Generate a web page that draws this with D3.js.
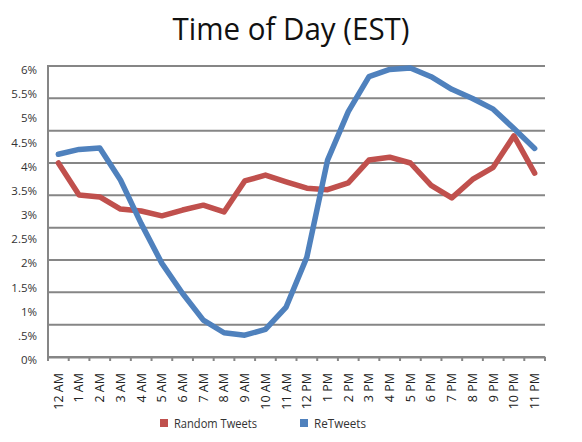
<!DOCTYPE html>
<html><head><meta charset="utf-8">
<script src="https://cdn.jsdelivr.net/npm/d3@7"></script>
<style>body{margin:0;background:#fff;} svg{display:block;}</style>
</head><body>
<script>
const hours = ["12 AM","1 AM","2 AM","3 AM","4 AM","5 AM","6 AM","7 AM","8 AM","9 AM","10 AM","11 AM","12 PM","1 PM","2 PM","3 PM","4 PM","5 PM","6 PM","7 PM","8 PM","9 PM","10 PM","11 PM"];
const randomTweets = [4.00,3.34,3.30,3.05,3.01,2.91,3.03,3.13,2.99,3.63,3.75,3.61,3.48,3.45,3.59,4.06,4.12,4.00,3.54,3.28,3.66,3.91,4.56,3.79];
const reTweets = [4.18,4.28,4.31,3.65,2.75,1.93,1.31,0.76,0.50,0.45,0.57,1.03,2.06,4.06,5.06,5.78,5.93,5.96,5.78,5.52,5.33,5.11,4.71,4.30];
const yTickLabels = ["0%",".5%","1%","1.5%","2%","2.5%","3%","3.5%","4%","4.5%","5%","5.5%","6%"];
const yTickValues = [0,0.5,1,1.5,2,2.5,3,3.5,4,4.5,5,5.5,6];
const gridValues = [0,6/9,12/9,18/9,24/9,30/9,36/9,42/9,48/9,6];
const seriesNames = ["Random Tweets","ReTweets"];
const colors = ["#C0504D","#4F81BD"];

(function(){
const W=582,H=442;
const mL=48, mR=545, mT=66, mB=357;
const svg=d3.select("body").append("svg").attr("width",W).attr("height",H);
const font="'Open Sans', 'DejaVu Sans', sans-serif";

const x=d3.scaleBand().domain(hours).range([mL,mR]);
const y=d3.scaleLinear().domain([0,6]).range([mB,mT]);
const yLab=d3.scaleLinear().domain([0,6]).range([mB+3,mT+4]);

svg.append("text").attr("x",291).attr("y",40).attr("text-anchor","middle")
  .attr("font-family",font).attr("font-size",31).attr("fill","#111")
  .attr("textLength",237).attr("lengthAdjust","spacingAndGlyphs")
  .text("Time of Day (EST)");

svg.append("g").selectAll("line").data(gridValues).join("line")
  .attr("x1",mL).attr("x2",mR).attr("y1",d=>y(d)).attr("y2",d=>y(d))
  .attr("stroke","#868686").attr("stroke-width",2);

svg.append("g").selectAll("text").data(yTickValues).join("text")
  .attr("x",37).attr("y",d=>yLab(d)).attr("dy","0.35em").attr("text-anchor","end")
  .attr("font-family",font).attr("font-size",11.5).attr("fill","#333")
  .text((d,i)=>yTickLabels[i]);

svg.append("line").attr("x1",mL).attr("x2",mL).attr("y1",mT-1).attr("y2",mB+1)
  .attr("stroke","#868686").attr("stroke-width",2);

const xAxis=d3.axisBottom(x).tickSize(0).tickFormat("");
const gx=svg.append("g").attr("transform",`translate(0,${mB})`).call(xAxis);
gx.select(".domain").attr("stroke","#868686").attr("stroke-width",2);
const bounds=hours.map(h=>x(h)).concat([mR]);
svg.append("g").selectAll("line").data(bounds).join("line")
  .attr("x1",d=>d).attr("x2",d=>d).attr("y1",mB).attr("y2",mB+4)
  .attr("stroke","#868686").attr("stroke-width",2);
svg.append("g").selectAll("text").data(hours).join("text")
  .attr("transform",d=>`translate(${x(d)+x.bandwidth()/2},373) rotate(-90)`)
  .attr("text-anchor","end").attr("dy","0.35em")
  .attr("font-family",font).attr("font-size",12.5).attr("fill","#222")
  .text(d=>d);

const line=d3.line().x((d,i)=>x(hours[i])+x.bandwidth()/2).y(d=>y(d));
[randomTweets,reTweets].forEach((s,k)=>{
  svg.append("path").datum(s).attr("d",line).attr("fill","none")
    .attr("stroke",colors[k]).attr("stroke-width",5.5)
    .attr("stroke-linejoin","round").attr("stroke-linecap","round");
});

const legX=[160,300];
const legW=[83,52];
const lg=svg.append("g").selectAll("g").data(seriesNames).join("g")
  .attr("transform",(d,i)=>`translate(${legX[i]},419)`);
lg.append("rect").attr("width",8).attr("height",8).attr("fill",(d,i)=>colors[i]);
lg.append("text").attr("x",14).attr("y",4).attr("dy","0.35em")
  .attr("font-family",font).attr("font-size",13).attr("fill","#333")
  .attr("textLength",(d,i)=>legW[i]).attr("lengthAdjust","spacingAndGlyphs")
  .text(d=>d);
})();
</script>
</body></html>
